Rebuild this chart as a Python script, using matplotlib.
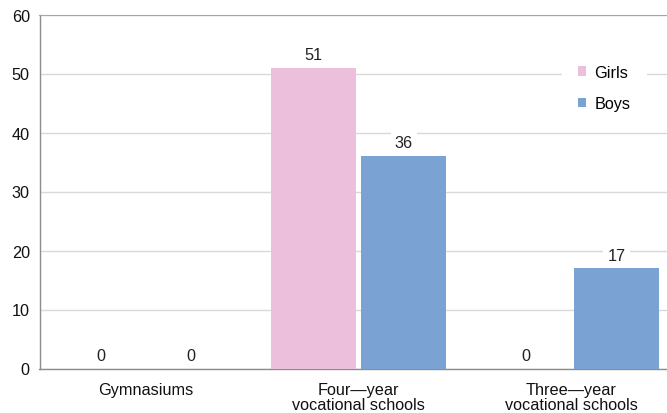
import matplotlib
matplotlib.use("Agg")
import matplotlib.pyplot as plt
from matplotlib.patches import Patch
import numpy as np

categories = ["Gymnasiums", "Four\u2014year\nvocational schools", "Three\u2014year\nvocational schools"]
girls = [0, 51, 0]
boys = [0, 36, 17]
series_names = ["Girls", "Boys"]
yticks = [0, 10, 20, 30, 40, 50, 60]

girl_color = "#ECBFDD"
boy_color = "#7AA3D4"

plt.rcParams['font.family'] = ['Liberation Sans', 'DejaVu Sans']
fs = 11.7

fig = plt.figure(figsize=(6.67, 4.14), dpi=100)
ax = fig.add_axes([39.5/667, 1-369.5/414, (677.5-39.5)/667, (369.5-15.5)/414])

x = np.arange(len(categories))
w = 0.40
off = 0.213
b1 = ax.bar(x - off, girls, w, color=girl_color, zorder=3)
b2 = ax.bar(x + off, boys, w, color=boy_color, zorder=3)

for bars, vals in ((b1, girls), (b2, boys)):
    for rect, v in zip(bars, vals):
        ax.annotate(f"{v}", (rect.get_x() + rect.get_width()/2, v),
                    xytext=(0, 9.5), textcoords="offset points",
                    ha="center", va="center", fontsize=fs, color="#222222",
                    bbox=dict(boxstyle="square,pad=0.25", fc="white", ec="none"),
                    zorder=4)

ax.set_xlim(-0.5, 2.5)
ax.set_ylim(0, 60)
ax.set_yticks(yticks)
ax.set_xticks(x)
ax.set_xticklabels(categories, fontsize=fs, linespacing=1.0, color="#111111")
ax.tick_params(axis="y", length=0, pad=7, labelsize=fs, labelcolor="#111111")
ax.tick_params(axis="x", length=0, pad=10)
ax.yaxis.grid(True, color="#D9D9D9", linewidth=1.0, zorder=0)
ax.set_axisbelow(True)
for s in ("left", "bottom"):
    ax.spines[s].set_color("#8C8C8C")
    ax.spines[s].set_linewidth(1.0)
ax.spines["top"].set_color("#A6A6A6")
ax.spines["right"].set_visible(False)

handles = [Patch(facecolor=girl_color, edgecolor="none"), Patch(facecolor=boy_color, edgecolor="none")]
leg = fig.legend(handles, series_names, loc="center left",
                 bbox_to_anchor=(562/667, 1-89/414), fontsize=fs,
                 handlelength=0.5, handleheight=0.5, handletextpad=0.5,
                 labelspacing=1.0, borderpad=1.0, borderaxespad=0,
                 frameon=True, fancybox=False, framealpha=1)
leg.get_frame().set_facecolor("white")
leg.get_frame().set_edgecolor("none")
leg.set_zorder(5)

fig.savefig("out.png", dpi=100)
